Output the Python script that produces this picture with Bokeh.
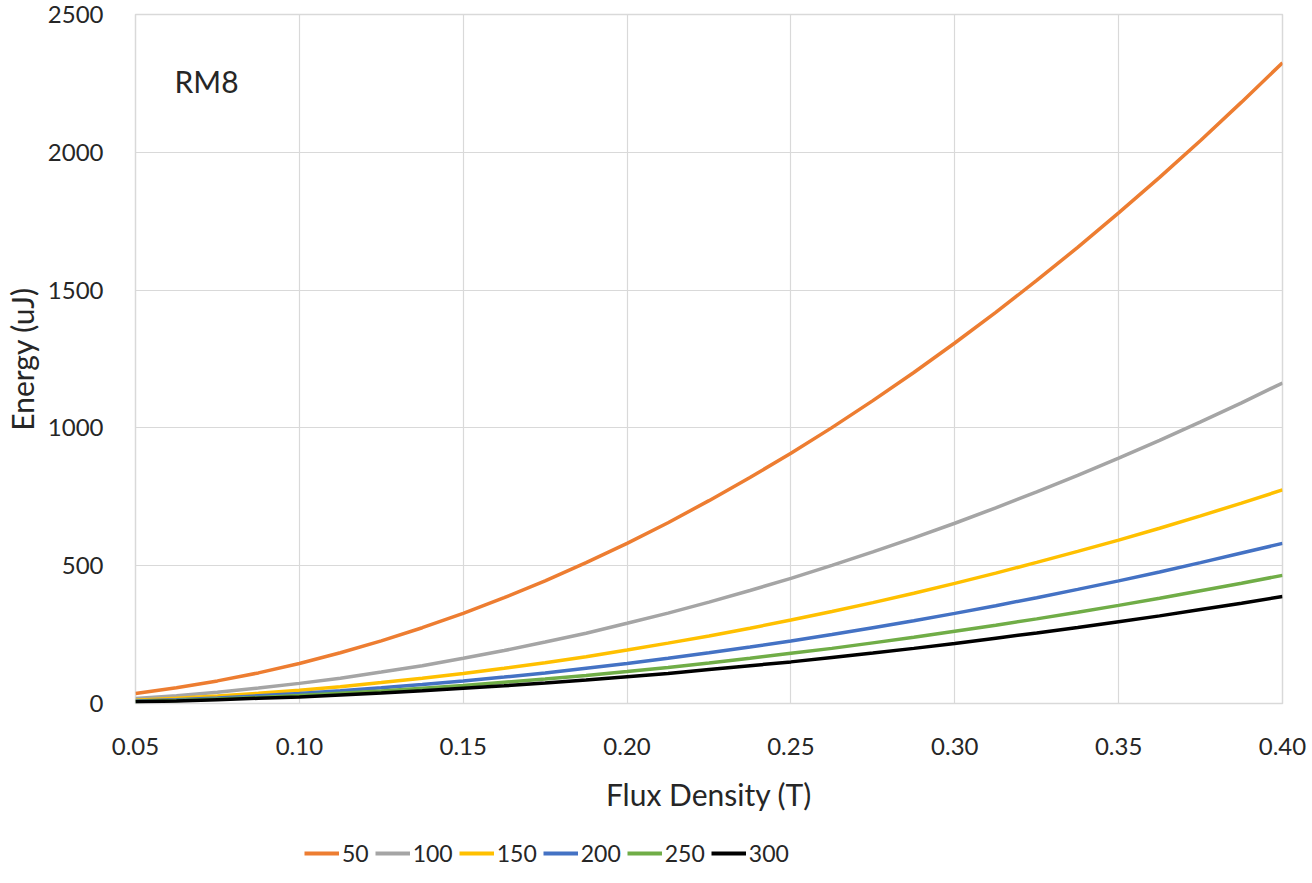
from bokeh.plotting import figure
from bokeh.models import Legend, LegendItem, Range1d, FixedTicker, Label
from bokeh.layouts import column
from bokeh.embed import file_html
from bokeh.resources import INLINE

flux = [0.05, 0.0625, 0.075, 0.0875, 0.10, 0.1125, 0.125, 0.1375, 0.15, 0.1625,
        0.175, 0.1875, 0.20, 0.2125, 0.225, 0.2375, 0.25, 0.2625, 0.275, 0.2875,
        0.30, 0.3125, 0.325, 0.3375, 0.35, 0.3625, 0.375, 0.3875, 0.40]
e50 = [36, 57, 82, 111, 145, 184, 227, 275, 327, 384, 445, 511, 581, 656, 736,
       820, 908, 1001, 1099, 1201, 1308, 1419, 1535, 1655, 1780, 1909, 2043, 2182, 2325]
e100 = [18, 28, 41, 56, 73, 92, 114, 137, 164, 192, 223, 255, 291, 328, 368,
        410, 454, 501, 550, 601, 654, 710, 768, 828, 890, 955, 1022, 1091, 1163]
e150 = [12, 19, 27, 37, 48, 61, 76, 92, 109, 128, 148, 170, 194, 219, 245,
        273, 303, 334, 366, 400, 436, 473, 512, 552, 593, 636, 681, 727, 775]
e200 = [9, 14, 20, 28, 36, 46, 57, 69, 82, 96, 111, 128, 145, 164, 184,
        205, 227, 250, 275, 300, 327, 355, 384, 414, 445, 477, 511, 546, 581]
e250 = [7, 11, 16, 22, 29, 37, 45, 55, 65, 77, 89, 102, 116, 131, 147,
        164, 182, 200, 220, 240, 262, 284, 307, 331, 356, 382, 409, 436, 465]
e300 = [6, 9, 14, 19, 24, 31, 38, 46, 55, 64, 74, 85, 97, 109, 123,
        137, 151, 167, 183, 200, 218, 237, 256, 276, 297, 318, 341, 364, 388]
series_names = ["50", "100", "150", "200", "250", "300"]
colors = ["#ED7D31", "#A5A5A5", "#FFC000", "#4472C4", "#70AD47", "#000000"]
x_ticks = [0.05, 0.10, 0.15, 0.20, 0.25, 0.30, 0.35, 0.40]
y_ticks = [0, 500, 1000, 1500, 2000, 2500]

FONT = "Lato"
TXT = "#262626"

p = figure(frame_width=1147, frame_height=689, output_backend="svg", toolbar_location=None,
           x_range=Range1d(0.05, 0.40), y_range=Range1d(0, 2500),
           min_border_left=128, min_border_right=29, min_border_top=14, min_border_bottom=112)

p.outline_line_color = "#d9d9d9"
p.outline_line_width = 1.5
p.xgrid.grid_line_color = "#d9d9d9"
p.ygrid.grid_line_color = "#d9d9d9"
p.xgrid.grid_line_width = 1.2
p.ygrid.grid_line_width = 1.2

p.xaxis.ticker = FixedTicker(ticks=x_ticks)
p.yaxis.ticker = FixedTicker(ticks=y_ticks)
p.xaxis.major_label_overrides = {t: f"{t:.2f}" for t in x_ticks}

for ax in (p.xaxis, p.yaxis):
    ax.axis_line_color = None
    ax.major_tick_line_color = None
    ax.minor_tick_line_color = None
    ax.major_label_text_font = FONT
    ax.major_label_text_font_size = "24px"
    ax.major_label_text_color = TXT
    ax.axis_label_text_font = FONT
    ax.axis_label_text_font_size = "30px"
    ax.axis_label_text_font_style = "normal"
    ax.axis_label_text_color = TXT

p.xaxis.axis_label = "Flux Density (T)"
p.yaxis.axis_label = "Energy (uJ)"
p.xaxis.major_label_standoff = 28
p.xaxis.axis_label_standoff = 18
p.yaxis.major_label_standoff = 26
p.yaxis.axis_label_standoff = 5

series = [e50, e100, e150, e200, e250, e300]
for name, ys, c in zip(series_names, series, colors):
    p.line(flux, ys, line_color=c, line_width=3.5)

p.add_layout(Label(x=0.0619, y=2258, text="RM8", text_font=FONT, text_font_size="30px",
                   text_color=TXT, text_baseline="middle"))

# legend strip below the chart (swatch renderers sit outside the visible range)
p2 = figure(frame_width=1147, frame_height=52, output_backend="svg", toolbar_location=None,
            x_range=Range1d(0, 1), y_range=Range1d(0, 1),
            min_border_left=128, min_border_right=29, min_border_top=0, min_border_bottom=0,
            x_axis_location=None, y_axis_location=None)
p2.grid.visible = False
p2.outline_line_color = None
items = []
for name, c in zip(series_names, colors):
    r = p2.line([5, 6], [5, 6], line_color=c, line_width=4)
    items.append(LegendItem(label=name, renderers=[r]))
legend = Legend(items=items, orientation="horizontal", location=(169, 0),
                glyph_width=35, glyph_height=20, label_standoff=3, spacing=6,
                label_text_font=FONT, label_text_font_size="23px", label_text_color=TXT,
                border_line_color=None, background_fill_alpha=0, margin=0, padding=0)
p2.add_layout(legend, "center")

layout = column(p, p2, spacing=0)
open("out.html", "w").write(file_html(layout, INLINE))
